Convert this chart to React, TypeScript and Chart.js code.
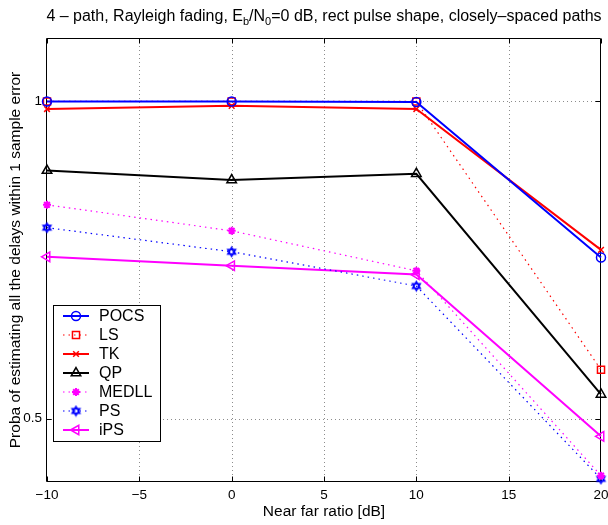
import React, { useEffect, useRef } from 'react';
import { Chart, registerables } from 'chart.js';
import { drawPoint } from 'chart.js/helpers';

Chart.register(...registerables);

const FONT = "'Liberation Sans', Arial, Helvetica, sans-serif";

const nearFar = [-10, 0, 10, 20];
const xTicks = [-10, -5, 0, 5, 10, 15, 20];
const yTicks = [0.5, 1];

const pocs = [1.0, 1.0, 0.999, 0.754];
const ls = [1.0, 1.0, 1.0, 0.577];
const tk = [0.988, 0.993, 0.988, 0.766];
const qp = [0.891, 0.876, 0.886, 0.538];
const medll = [0.837, 0.796, 0.733, 0.41];
const ps = [0.801, 0.763, 0.709, 0.405];
const ips = [0.755, 0.741, 0.727, 0.472];

const titleParts: [string, boolean][] = [
  ['4 \u2013 path, Rayleigh fading, E', false],
  ['b', true],
  ['/N', false],
  ['0', true],
  ['=0 dB, rect pulse shape, closely\u2013spaced paths', false],
];
const xLabel = 'Near far ratio [dB]';
const yLabel = 'Proba of estimating all the delays within 1 sample error';

function hexagram(color: string, r: number) {
  const c = document.createElement('canvas');
  const s = Math.ceil(r * 2 + 4);
  c.width = s;
  c.height = s;
  const g = c.getContext('2d')!;
  g.strokeStyle = color;
  g.lineWidth = 1.5;
  const cx = s / 2, cy = s / 2;
  for (const off of [-Math.PI / 2, Math.PI / 2]) {
    g.beginPath();
    for (let i = 0; i < 3; i++) {
      const a = off + (i * 2 * Math.PI) / 3;
      const px = cx + r * Math.cos(a), py = cy + r * Math.sin(a);
      if (i) g.lineTo(px, py); else g.moveTo(px, py);
    }
    g.closePath();
    g.stroke();
  }
  return c;
}

type S = { label: string; data: number[]; color: string; dash: number[]; width: number; style: any; radius: number; pbw: number; rot?: number };

export default function App() {
  const ref = useRef<HTMLCanvasElement>(null);
  useEffect(() => {
    document.body.style.margin = '0';
    const series: S[] = [
      { label: 'POCS', data: pocs, color: '#0000ff', dash: [], width: 2, style: 'circle', radius: 4.5, pbw: 1.5 },
      { label: 'LS', data: ls, color: '#ff0000', dash: [1.5, 4], width: 1.2, style: 'rect', radius: 5, pbw: 1.5 },
      { label: 'TK', data: tk, color: '#ff0000', dash: [], width: 2, style: 'crossRot', radius: 4, pbw: 1.5 },
      { label: 'QP', data: qp, color: '#000000', dash: [], width: 2, style: 'triangle', radius: 5.5, pbw: 1.5 },
      { label: 'MEDLL', data: medll, color: '#ff00ff', dash: [1.5, 4], width: 1.2, style: 'star', radius: 4, pbw: 2 },
      { label: 'PS', data: ps, color: '#0000ff', dash: [1.5, 4], width: 1.2, style: hexagram('#0000ff', 4.5), radius: 4.5, pbw: 1.5 },
      { label: 'iPS', data: ips, color: '#ff00ff', dash: [], width: 2, style: 'triangle', radius: 5.5, pbw: 1.5, rot: -90 },
    ];

    const framePlugin = {
      id: 'frame',
      beforeDatasetsDraw(chart: any) {
        const { ctx, chartArea: a, scales } = chart;
        const xs = scales.x, ys = scales.y;
        ctx.save();
        ctx.strokeStyle = 'rgba(0,0,0,0.45)';
        ctx.lineWidth = 1;
        ctx.setLineDash([1, 3]);
        for (const v of xTicks) {
          const px = Math.round(xs.getPixelForValue(v)) + 0.5;
          if (px <= a.left + 1 || px >= a.right - 1) continue;
          ctx.beginPath(); ctx.moveTo(px, a.top); ctx.lineTo(px, a.bottom); ctx.stroke();
        }
        for (const v of yTicks) {
          const py = Math.round(ys.getPixelForValue(v)) + 0.5;
          ctx.beginPath(); ctx.moveTo(a.left, py); ctx.lineTo(a.right, py); ctx.stroke();
        }
        ctx.setLineDash([]);
        ctx.strokeStyle = '#000';
        const L = Math.round(a.left) - 0.5, R = Math.round(a.right) - 0.5;
        const T = Math.round(a.top) + 0.5, B = Math.round(a.bottom) - 0.5;
        ctx.beginPath();
        ctx.rect(L, T, R - L, B - T);
        ctx.stroke();
        const tl = 5;
        for (const v of xTicks) {
          const px = Math.round(xs.getPixelForValue(v)) + 0.5;
          ctx.beginPath(); ctx.moveTo(px, B); ctx.lineTo(px, B - tl); ctx.moveTo(px, T); ctx.lineTo(px, T + tl); ctx.stroke();
        }
        for (const v of yTicks) {
          const py = Math.round(ys.getPixelForValue(v)) + 0.5;
          ctx.beginPath(); ctx.moveTo(L, py); ctx.lineTo(L + tl, py); ctx.moveTo(R, py); ctx.lineTo(R - tl, py); ctx.stroke();
        }
        ctx.restore();
      },
      afterDraw(chart: any) {
        const { ctx, chartArea: a } = chart;
        ctx.save();
        ctx.fillStyle = '#000';
        // title
        const big = `16px ${FONT}`, small = `11px ${FONT}`;
        let total = 0;
        for (const [t, sub] of titleParts) { ctx.font = sub ? small : big; total += ctx.measureText(t).width; }
        let x = (a.left + a.right) / 2 - total / 2;
        ctx.textBaseline = 'alphabetic';
        ctx.textAlign = 'left';
        for (const [t, sub] of titleParts) {
          ctx.font = sub ? small : big;
          ctx.fillText(t, x, sub ? 25 : 21);
          x += ctx.measureText(t).width;
        }
        // x label
        ctx.font = `15.5px ${FONT}`;
        ctx.textAlign = 'center';
        ctx.textBaseline = 'middle';
        ctx.fillText(xLabel, (a.left + a.right) / 2, 512);
        // y label
        ctx.save();
        ctx.translate(16, (a.top + a.bottom) / 2);
        ctx.rotate(-Math.PI / 2);
        ctx.fillText(yLabel, 0, 0);
        ctx.restore();
        // legend
        const bx = 53.5, by = 305.5, bw = 107, bh = 136;
        ctx.fillStyle = '#fff';
        ctx.fillRect(bx, by, bw, bh);
        ctx.strokeStyle = '#000';
        ctx.lineWidth = 1;
        ctx.strokeRect(bx, by, bw, bh);
        ctx.font = `16px ${FONT}`;
        ctx.textAlign = 'left';
        ctx.textBaseline = 'middle';
        series.forEach((s, i) => {
          const ry = 316 + i * 19;
          ctx.strokeStyle = s.color;
          ctx.lineWidth = s.width;
          ctx.setLineDash(s.dash);
          ctx.beginPath(); ctx.moveTo(63, ry); ctx.lineTo(89, ry); ctx.stroke();
          ctx.setLineDash([]);
          ctx.lineWidth = s.pbw;
          ctx.fillStyle = 'rgba(0,0,0,0)';
          drawPoint(ctx, { pointStyle: s.style, radius: s.radius, rotation: s.rot || 0, borderWidth: s.pbw } as any, 76, ry);
          ctx.fillStyle = '#000';
          ctx.fillText(s.label, 99, ry + 1);
        });
        ctx.restore();
      },
    };

    const chart = new Chart(ref.current!, {
      type: 'line',
      data: {
        datasets: series.map((s) => ({
          label: s.label,
          data: nearFar.map((x, i) => ({ x, y: s.data[i] })),
          borderColor: s.color,
          borderWidth: s.width,
          borderDash: s.dash,
          tension: 0,
          fill: false,
          pointStyle: s.style,
          pointRadius: s.radius,
          pointBorderWidth: s.pbw,
          pointBorderColor: s.color,
          pointBackgroundColor: 'rgba(0,0,0,0)',
          pointRotation: s.rot || 0,
          clip: false as any,
        })),
      },
      options: {
        animation: false,
        responsive: false,
        devicePixelRatio: 1,
        layout: { padding: { top: 38, right: 6, left: 0, bottom: 0 } },
        plugins: { legend: { display: false }, tooltip: { enabled: false }, title: { display: false } },
        scales: {
          x: {
            type: 'linear', min: -10, max: 20,
            afterBuildTicks: (s: any) => { s.ticks = xTicks.map((v) => ({ value: v })); },
            afterFit: (s: any) => { s.height = 43; s.paddingLeft = 0; s.paddingRight = 0; },
            grid: { display: false, drawTicks: false }, border: { display: false },
            ticks: {
              color: '#000', font: { family: FONT, size: 13.5 }, padding: 5, maxRotation: 0, autoSkip: false,
              callback: (v: any) => String(v).replace('-', '\u2212'),
            },
          },
          y: {
            type: 'linear', min: 0.4, max: 1.1,
            afterBuildTicks: (s: any) => { s.ticks = yTicks.map((v) => ({ value: v })); },
            afterFit: (s: any) => { s.width = 47; s.paddingTop = 0; s.paddingBottom = 0; },
            grid: { display: false, drawTicks: false }, border: { display: false },
            ticks: { color: '#000', font: { family: FONT, size: 13.5 }, padding: 5, autoSkip: false, callback: (v: any) => String(v) },
          },
        },
      },
      plugins: [framePlugin],
    } as any);
    return () => chart.destroy();
  }, []);
  return <canvas ref={ref} width={608} height={525} style={{ display: 'block', width: 608, height: 525 }} />;
}
